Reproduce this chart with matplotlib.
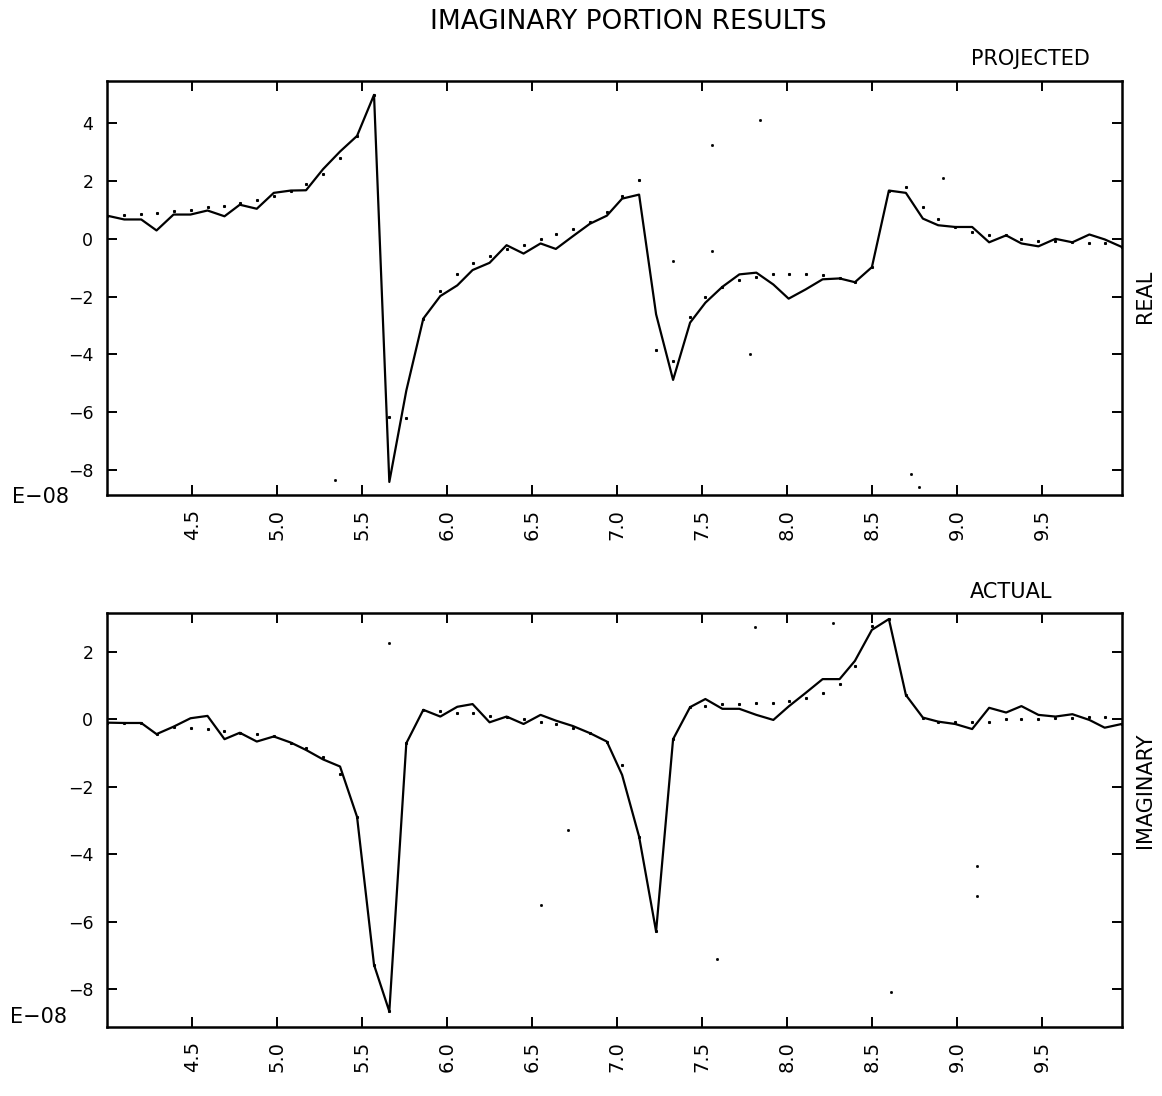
import matplotlib
matplotlib.use("Agg")
import matplotlib.pyplot as plt

# x grid (same for both panels)
x = [4.00, 4.10, 4.20, 4.29, 4.39, 4.49, 4.59, 4.69, 4.78, 4.88,
     4.98, 5.08, 5.17, 5.27, 5.37, 5.47, 5.57, 5.66, 5.76, 5.86,
     5.96, 6.06, 6.15, 6.25, 6.35, 6.45, 6.55, 6.64, 6.74, 6.84,
     6.94, 7.03, 7.13, 7.23, 7.33, 7.43, 7.52, 7.62, 7.72, 7.82,
     7.92, 8.01, 8.11, 8.21, 8.31, 8.40, 8.50, 8.60, 8.70, 8.80,
     8.89, 8.99, 9.09, 9.19, 9.29, 9.38, 9.48, 9.58, 9.68, 9.78,
     9.87, 9.97]

# real part (x E-08)
real_line = [0.80, 0.67, 0.67, 0.29, 0.84, 0.84, 0.98, 0.78, 1.18, 1.04,
             1.59, 1.67, 1.68, 2.41, 3.02, 3.56, 4.98, -8.41, -5.25, -2.76,
             -1.98, -1.61, -1.08, -0.83, -0.22, -0.51, -0.16, -0.35, 0.09, 0.52,
             0.80, 1.39, 1.53, -2.61, -4.88, -2.90, -2.21, -1.66, -1.23, -1.17,
             -1.58, -2.07, -1.75, -1.40, -1.37, -1.50, -0.98, 1.67, 1.59, 0.70,
             0.47, 0.41, 0.41, -0.12, 0.12, -0.16, -0.26, 0.00, -0.12, 0.15,
             -0.02, -0.28]
real_dots = [0.80, 0.84, 0.87, 0.90, 0.98, 1.01, 1.09, 1.15, 1.24, 1.36,
             1.47, 1.67, 1.91, 2.24, 2.79, 3.56, 4.98, -6.15, -6.20, -2.76,
             -1.81, -1.21, -0.85, -0.60, -0.35, -0.20, -0.02, 0.15, 0.34, 0.59,
             0.92, 1.49, 2.04, -3.85, -4.22, -2.69, -2.00, -1.66, -1.44, -1.31,
             -1.23, -1.23, -1.23, -1.25, -1.37, -1.50, -0.98, 1.67, 1.81, 1.09,
             0.67, 0.41, 0.23, 0.13, 0.12, 0.00, -0.06, -0.08, -0.12, -0.14,
             -0.16, -0.28]

# imaginary part (x E-08)
imag_line = [-0.10, -0.11, -0.11, -0.44, -0.22, 0.03, 0.10, -0.59, -0.40, -0.66,
             -0.51, -0.69, -0.91, -1.19, -1.40, -2.89, -7.28, -8.66, -0.71, 0.28,
             0.08, 0.37, 0.45, -0.09, 0.08, -0.14, 0.13, -0.04, -0.20, -0.41,
             -0.66, -1.65, -3.48, -6.29, -0.59, 0.36, 0.60, 0.31, 0.31, 0.13,
             -0.02, 0.38, 0.78, 1.19, 1.19, 1.73, 2.65, 2.97, 0.72, 0.05,
             -0.07, -0.14, -0.29, 0.34, 0.20, 0.39, 0.13, 0.08, 0.15, -0.02,
             -0.25, -0.14]
imag_dots = [-0.10, -0.11, -0.11, -0.44, -0.22, -0.25, -0.29, -0.35, -0.40, -0.45,
             -0.51, -0.69, -0.84, -1.11, -1.62, -2.89, -7.28, -8.66, -0.71, 0.28,
             0.25, 0.20, 0.18, 0.11, 0.08, 0.01, -0.09, -0.14, -0.27, -0.41,
             -0.66, -1.37, -3.48, -6.29, -0.59, 0.36, 0.40, 0.44, 0.44, 0.47,
             0.49, 0.55, 0.64, 0.79, 1.05, 1.58, 2.77, 2.97, 0.72, 0.05,
             -0.07, -0.07, -0.07, -0.07, 0.00, 0.00, 0.00, 0.05, 0.04, 0.08,
             0.08, -0.14]

# stray specks on the plot
real_speck_x = [7.84, 7.56, 7.78, 8.92, 8.73, 8.78, 7.33, 7.56, 5.34]
real_speck_y = [4.11, 3.25, -3.99, 2.11, -8.13, -8.58, -0.75, -0.42, -8.36]
imag_speck_x = [5.66, 7.81, 6.71, 6.55, 7.59, 9.12, 9.12, 8.61, 8.27]
imag_speck_y = [2.25, 2.74, -3.28, -5.50, -7.10, -4.34, -5.24, -8.07, 2.84]

xticks = [4.5, 5.0, 5.5, 6.0, 6.5, 7.0, 7.5, 8.0, 8.5, 9.0, 9.5]

plt.rcParams["font.family"] = "DejaVu Sans"

fig = plt.figure(figsize=(11.62, 10.96), dpi=100)
ax1 = fig.add_axes([0.0923, 0.5484, 0.8730, 0.3777])
ax2 = fig.add_axes([0.0923, 0.0630, 0.8730, 0.3777])


def style(ax, ylim, yticks):
    ax.set_xlim(4.0, 9.97)
    ax.set_ylim(*ylim)
    ax.set_xticks(xticks)
    ax.set_xticklabels(["%.1f" % t for t in xticks], rotation=90, fontsize=14)
    ax.set_yticks(yticks)
    ax.set_yticklabels([("%d" % t).replace("-", "\u2212") for t in yticks],
                       fontsize=12.5)
    ax.tick_params(direction="in", length=7, width=1.4, pad=10,
                   top=True, right=True)
    for s in ax.spines.values():
        s.set_linewidth(1.8)


ax1.plot(x, real_line, color="black", lw=1.6)
ax1.plot(x, real_dots, ls="none", marker="s", ms=1.2, color="black")
ax1.plot(real_speck_x, real_speck_y, ls="none", marker="s", ms=1.0, color="black")
style(ax1, (-8.86, 5.46), [-8, -6, -4, -2, 0, 2, 4])

ax2.plot(x, imag_line, color="black", lw=1.6)
ax2.plot(x, imag_dots, ls="none", marker="s", ms=1.2, color="black")
ax2.plot(imag_speck_x, imag_speck_y, ls="none", marker="s", ms=1.0, color="black")
style(ax2, (-9.12, 3.15), [-8, -6, -4, -2, 0, 2])

fig.text(0.541, 0.980, "IMAGINARY PORTION RESULTS", ha="center", va="center",
         fontsize=19)
fig.text(0.8356, 0.9407, "PROJECTED", ha="left", va="baseline", fontsize=15)
fig.text(0.8348, 0.4544, "ACTUAL", ha="left", va="baseline", fontsize=15)
fig.text(0.9854, 0.730, "REAL", rotation=90, ha="center", va="center", fontsize=15)
fig.text(0.9854, 0.2792, "IMAGINARY", rotation=90, ha="center", va="center",
         fontsize=15)
fig.text(0.0103, 0.5465, "E\u221208", ha="left", va="center", fontsize=15)
fig.text(0.0086, 0.0721, "E\u221208", ha="left", va="center", fontsize=15)

fig.savefig("out.png", dpi=100, facecolor="white")
